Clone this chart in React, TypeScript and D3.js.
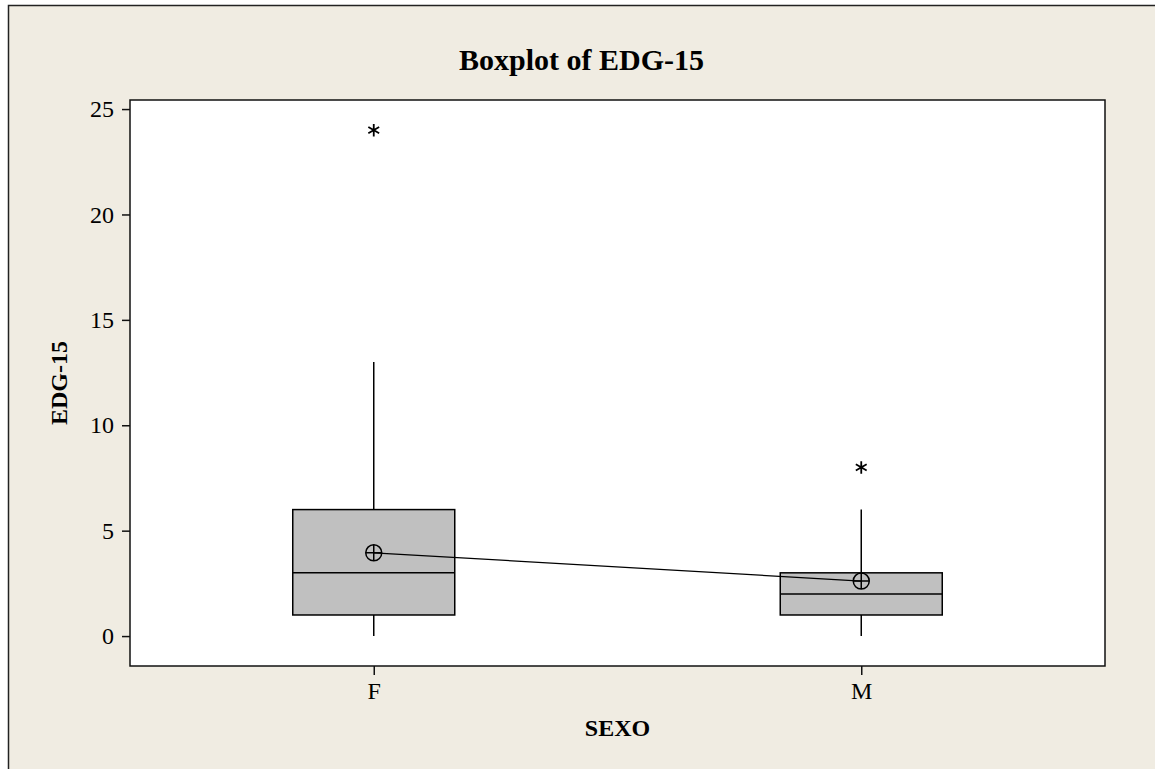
import React from "react";
import * as d3 from "d3";

// groups on the x axis
const categories = ["F", "M"];
// five-number summaries per group (lower whisker, Q1, median, Q3, upper whisker)
const whiskerLow = [0, 0];
const q1 = [1, 1];
const median = [3, 2];
const q3 = [6, 3];
const whiskerHigh = [13, 6];
const means = [3.95, 2.61];
// outliers per group
const outliers = [[24], [8]];
const yTicks = [0, 5, 10, 15, 20, 25];

const W = 1155;
const H = 769;

const App = () => {
  const svgRef = React.useRef<SVGSVGElement>(null);

  React.useEffect(() => {
    const svg = d3.select(svgRef.current);
    svg.selectAll("*").remove();

    const left = 130;
    const right = 1105;
    const top = 100;
    const bottom = 666;

    // outer figure background
    svg
      .append("rect")
      .attr("x", 8.5)
      .attr("y", 5.5)
      .attr("width", W + 20)
      .attr("height", H + 20)
      .attr("fill", "#f0ece2")
      .attr("stroke", "#222")
      .attr("stroke-width", 1.5);

    // plot area
    svg
      .append("rect")
      .attr("x", left)
      .attr("y", top)
      .attr("width", right - left)
      .attr("height", bottom - top)
      .attr("fill", "#ffffff");

    const x = d3.scalePoint().domain(categories).range([left, right]).padding(0.5);
    const y = d3.scaleLinear().domain([-1.42, 25.43]).range([bottom, top]);

    const font = "'Liberation Serif', 'Times New Roman', serif";

    // y axis
    const yAxis = svg
      .append("g")
      .attr("transform", `translate(${left},0)`)
      .call(d3.axisLeft(y).tickValues(yTicks).tickSize(8).tickPadding(8).tickSizeOuter(0));
    yAxis.select(".domain").remove();
    yAxis.selectAll("line").attr("stroke", "#111").attr("stroke-width", 1.5);
    yAxis
      .selectAll("text")
      .attr("font-family", font)
      .attr("font-size", 24)
      .attr("fill", "#000");

    // x axis
    const xAxis = svg
      .append("g")
      .attr("transform", `translate(0,${bottom})`)
      .call(d3.axisBottom(x).tickSize(9).tickPadding(7).tickSizeOuter(0));
    xAxis.select(".domain").remove();
    xAxis.selectAll("line").attr("stroke", "#111").attr("stroke-width", 1.5);
    xAxis
      .selectAll("text")
      .attr("font-family", font)
      .attr("font-size", 24)
      .attr("fill", "#000");

    const boxW = 162;
    const g = svg.append("g");

    categories.forEach((c, i) => {
      const cx = x(c)!;
      // whiskers
      g.append("line")
        .attr("x1", cx)
        .attr("x2", cx)
        .attr("y1", y(q3[i]))
        .attr("y2", y(whiskerHigh[i]))
        .attr("stroke", "#000")
        .attr("stroke-width", 1.5);
      g.append("line")
        .attr("x1", cx)
        .attr("x2", cx)
        .attr("y1", y(q1[i]))
        .attr("y2", y(whiskerLow[i]))
        .attr("stroke", "#000")
        .attr("stroke-width", 1.5);
      // box
      g.append("rect")
        .attr("x", cx - boxW / 2)
        .attr("y", y(q3[i]))
        .attr("width", boxW)
        .attr("height", y(q1[i]) - y(q3[i]))
        .attr("fill", "#c0c0c0")
        .attr("stroke", "#000")
        .attr("stroke-width", 1.5);
      // median
      g.append("line")
        .attr("x1", cx - boxW / 2)
        .attr("x2", cx + boxW / 2)
        .attr("y1", y(median[i]))
        .attr("y2", y(median[i]))
        .attr("stroke", "#000")
        .attr("stroke-width", 1.5);
      // outliers
      g.selectAll(null)
        .data(outliers[i])
        .join("path")
        .attr("transform", (d) => `translate(${cx},${y(d)})`)
        .attr("d", d3.symbol(d3.symbolAsterisk, 110)())
        .attr("fill", "none")
        .attr("stroke", "#000")
        .attr("stroke-width", 1.8);
    });

    // mean connect line
    g.append("path")
      .datum(means)
      .attr(
        "d",
        d3
          .line<number>()
          .x((_, i) => x(categories[i])!)
          .y((d) => y(d))
      )
      .attr("fill", "none")
      .attr("stroke", "#000")
      .attr("stroke-width", 1.3);

    // mean symbols: circle with cross
    categories.forEach((c, i) => {
      const cx = x(c)!;
      const cy = y(means[i]);
      const r = 8;
      g.append("circle")
        .attr("cx", cx)
        .attr("cy", cy)
        .attr("r", r)
        .attr("fill", "none")
        .attr("stroke", "#000")
        .attr("stroke-width", 1.5);
      g.append("path")
        .attr("d", `M${cx - r},${cy}H${cx + r}M${cx},${cy - r}V${cy + r}`)
        .attr("stroke", "#000")
        .attr("stroke-width", 1.5);
    });

    // plot frame
    svg
      .append("rect")
      .attr("x", left)
      .attr("y", top)
      .attr("width", right - left)
      .attr("height", bottom - top)
      .attr("fill", "none")
      .attr("stroke", "#111")
      .attr("stroke-width", 1.5);

    // title and labels
    svg
      .append("text")
      .attr("x", (8 + W) / 2)
      .attr("y", 70)
      .attr("text-anchor", "middle")
      .attr("font-family", font)
      .attr("font-weight", "bold")
      .attr("font-size", 30)
      .text("Boxplot of EDG-15");

    svg
      .append("text")
      .attr("x", (left + right) / 2)
      .attr("y", 736)
      .attr("text-anchor", "middle")
      .attr("font-family", font)
      .attr("font-weight", "bold")
      .attr("font-size", 24)
      .text("SEXO");

    svg
      .append("text")
      .attr("transform", `translate(67,${(top + bottom) / 2}) rotate(-90)`)
      .attr("text-anchor", "middle")
      .attr("font-family", font)
      .attr("font-weight", "bold")
      .attr("font-size", 24)
      .text("EDG-15");
  }, []);

  return (
    <div style={{ position: "absolute", left: 0, top: 0, width: W, height: H, overflow: "hidden" }}>
      <svg ref={svgRef} width={W} height={H} style={{ display: "block" }} />
    </div>
  );
};

export default App;
